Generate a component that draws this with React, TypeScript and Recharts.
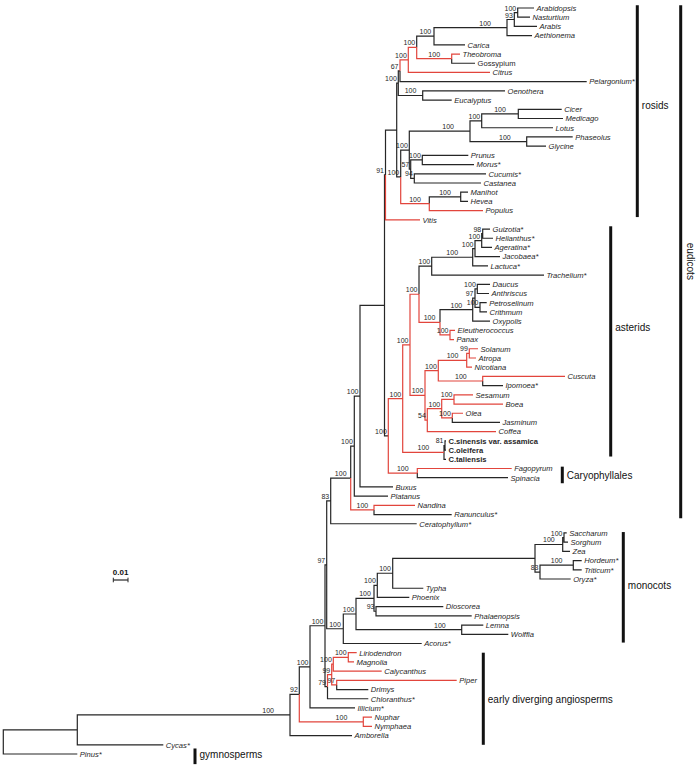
import React from "react";
import { ComposedChart, Line, Scatter, XAxis, YAxis, ReferenceLine } from "recharts";

// leaves, top to bottom: name, parent clade, tip depth
const tips: [string, string, number][] = [
  ["Arabidopsis", "arabNast", 534],
  ["Nasturtium", "arabNast", 530],
  ["Arabis", "n93", 537],
  ["Aethionema", "brassicaceae", 532],
  ["Carica", "brassicales", 465],
  ["Theobroma", "malvales", 460],
  ["Gossypium", "malvales", 475],
  ["Citrus", "C", 490],
  ["Pelargonium*", "D", 586.7],
  ["Oenothera", "myrtales", 505],
  ["Eucalyptus", "myrtales", 451.7],
  ["Cicer", "cicMed", 561.7],
  ["Medicago", "cicMed", 563],
  ["Lotus", "fabX", 553],
  ["Phaseolus", "phasGly", 572.7],
  ["Glycine", "phasGly", 546],
  ["Prunus", "rosales", 468.3],
  ["Morus*", "rosales", 474],
  ["Cucumis*", "cucFag", 486],
  ["Castanea", "cucFag", 481],
  ["Manihot", "manHev", 468],
  ["Hevea", "manHev", 468],
  ["Populus", "malpig", 483],
  ["Vitis", "V", 420],
  ["Guizotia*", "guiHel", 490],
  ["Helianthus*", "guiHel", 493],
  ["Ageratina*", "ast2", 492],
  ["Jacobaea*", "ast3", 500],
  ["Lactuca*", "asteraceae", 488],
  ["Trachelium*", "asterales", 544],
  ["Daucus", "dauAnth", 490],
  ["Anthriscus", "dauAnth", 489],
  ["Petroselinum", "petCri", 486.7],
  ["Crithmum", "petCri", 487],
  ["Oxypolis", "apiaceae", 490],
  ["Eleutherococcus", "aralia", 455],
  ["Panax", "aralia", 454],
  ["Solanum", "solAtr", 478],
  ["Atropa", "solAtr", 476],
  ["Nicotiana", "solanaceae", 472],
  ["Cuscuta", "convolv", 565],
  ["Ipomoea*", "convolv", 503],
  ["Sesamum", "sesBoea", 473],
  ["Boea", "sesBoea", 503],
  ["Olea", "oleJas", 463],
  ["Jasminum", "oleJas", 500],
  ["Coffea", "n54", 496],
  ["C.sinensis var. assamica", "n81", 446],
  ["C.oleifera", "n81", 446],
  ["C.taliensis", "camellia", 446],
  ["Fagopyrum", "caryo", 511.7],
  ["Spinacia", "caryo", 508],
  ["Buxus", "Q", 393],
  ["Platanus", "S", 388],
  ["Nandina", "ranunc", 415],
  ["Ranunculus*", "ranunc", 451.7],
  ["Ceratophyllum*", "U", 416.7],
  ["Saccharum", "sacSor", 566.7],
  ["Sorghum", "sacSor", 568],
  ["Zea", "SSZ", 570],
  ["Hordeum*", "pooid", 581.7],
  ["Triticum*", "pooid", 581.7],
  ["Oryza*", "BOP", 570.7],
  ["Typha", "poales", 423.3],
  ["Phoenix", "m377", 409.3],
  ["Dioscorea", "dioPhal", 443.3],
  ["Phalaenopsis", "dioPhal", 471.7],
  ["Lemna", "araceae", 483.3],
  ["Wolffia", "araceae", 508.3],
  ["Acorus*", "Mo", 421.7],
  ["Liriodendron", "LM", 356.7],
  ["Magnolia", "LM", 354],
  ["Calycanthus", "LMC", 381.7],
  ["Piper", "PD", 456.7],
  ["Drimys", "PD", 368.3],
  ["Chloranthus*", "n79", 368.3],
  ["Illicium*", "K", 355],
  ["Nuphar", "nym", 372],
  ["Nymphaea", "nym", 372],
  ["Amborella", "ang", 352],
  ["Cycas*", "seed", 163.3],
  ["Pinus*", "root", 77.3],
];

// internal nodes: id, parent, node depth, bootstrap support
const clades: [string, string, number, number | null][] = [
  ["root", "", 3.3, null],
  ["seed", "root", 77.3, null],
  ["ang", "seed", 290, 100],
  ["N92", "ang", 299.3, 92],
  ["K", "N92", 310, 100],
  ["L", "K", 325, 100],
  ["W", "L", 326.7, 97],
  ["U", "W", 330.7, 83],
  ["T", "U", 350.7, 100],
  ["S", "T", 354.3, 100],
  ["Q", "S", 360, 100],
  ["P", "Q", 384.5, null],
  ["V", "P", 385.5, 91],
  ["R", "V", 396.7, null],
  ["E", "R", 398.3, 100],
  ["D", "E", 400, 67],
  ["C", "D", 408.3, 100],
  ["B", "C", 416.7, 100],
  ["brassicales", "B", 434, 100],
  ["brassicaceae", "brassicales", 507, 100],
  ["n93", "brassicaceae", 514.3, 93],
  ["arabNast", "n93", 517.7, 100],
  ["malvales", "B", 451.7, 100],
  ["myrtales", "E", 422.7, 100],
  ["F", "R", 400.7, 100],
  ["G", "F", 409.3, 100],
  ["fabales", "G", 470, 100],
  ["fabX", "fabales", 481.7, 100],
  ["cicMed", "fabX", 518.3, 100],
  ["phasGly", "fabales", 526.7, 100],
  ["RC", "G", 410.7, 57],
  ["rosales", "RC", 422.3, 100],
  ["cucFag", "RC", 414.3, 94],
  ["malpig", "F", 429.3, 100],
  ["manHev", "malpig", 460.7, 100],
  ["SA", "P", 388.3, 100],
  ["AS", "SA", 402.7, 100],
  ["core", "AS", 410, 100],
  ["camp", "core", 419, 100],
  ["asterales", "camp", 431.7, 100],
  ["asteraceae", "asterales", 472.7, 100],
  ["ast3", "asteraceae", 475, 100],
  ["ast2", "ast3", 481.7, 100],
  ["guiHel", "ast2", 482.7, 98],
  ["apiales", "camp", 440, 100],
  ["apiaceae", "apiales", 472.7, 100],
  ["n97", "apiaceae", 475, 97],
  ["dauAnth", "n97", 477.3, 100],
  ["petCri", "n97", 480, 100],
  ["aralia", "apiales", 450, 100],
  ["lam", "core", 425, 100],
  ["solanales", "lam", 438.3, 100],
  ["solanaceae", "solanales", 466.7, 100],
  ["solAtr", "solanaceae", 469.3, 99],
  ["convolv", "solanales", 482.7, 100],
  ["n54", "lam", 427.3, 54],
  ["lamiales", "n54", 441.7, 100],
  ["sesBoea", "lamiales", 454, 100],
  ["oleJas", "lamiales", 452.3, 100],
  ["camellia", "AS", 444, 100],
  ["n81", "camellia", 445, 81],
  ["caryo", "SA", 417.3, 100],
  ["ranunc", "T", 374, 100],
  ["Mo", "W", 343.3, 100],
  ["mcore", "Mo", 356, 100],
  ["m374", "mcore", 374, 100],
  ["m377", "m374", 377.3, 100],
  ["poales", "m377", 392.7, 100],
  ["poaceae", "poales", 535, null],
  ["SSZ", "poaceae", 562.7, 100],
  ["sacSor", "SSZ", 564, 100],
  ["BOP", "poaceae", 540, 83],
  ["pooid", "BOP", 573.3, 100],
  ["dioPhal", "m374", 376, 93],
  ["araceae", "mcore", 461.7, 100],
  ["n79", "L", 327.5, 79],
  ["magn", "n79", 331.7, 99],
  ["LMC", "magn", 333.3, 100],
  ["LM", "LMC", 348.3, 100],
  ["PD", "magn", 336.7, 97],
  ["nym", "N92", 363.3, 100],
];

// branches highlighted in red
const redBranches = [
  "C", "B", "malvales", "Theobroma", "Citrus", "malpig", "Populus", "Vitis",
  "AS", "core", "camp", "apiales", "aralia", "Eleutherococcus", "Panax",
  "lam", "solanales", "solanaceae", "solAtr", "Solanum", "Atropa", "Nicotiana",
  "convolv", "Cuscuta", "n54", "lamiales", "sesBoea", "Sesamum", "Boea",
  "oleJas", "Olea", "Coffea", "camellia", "caryo", "Fagopyrum",
  "ranunc", "Nandina", "magn", "LMC", "LM", "Liriodendron", "Magnolia",
  "Calycanthus", "PD", "Piper", "nym", "Nuphar", "Nymphaea",
];

const boldTips = ["C.sinensis var. assamica", "C.oleifera", "C.taliensis"];
const uprightTips = ["Gossypium"];

// group brackets: label, first row, last row, label row
const groups: [string, number, number, number][] = [
  ["rosids", -0.3, 22.7, 10.6],
  ["asterids", 23.7, 48.7, 34.7],
  ["Caryophyllales", 49.8, 51.6, 50.7],
  ["monocots", 56.9, 68.9, 62.7],
  ["early diverging angiosperms", 70, 80, 75.1],
  ["gymnosperms", 80.4, 82.1, 81],
];
const groupX = [637.3, 610.7, 562.3, 623.3, 483.3, 195];
const outerGroup: [string, number, number, number] = ["eudicots", -0.3, 55.4, 27.5];
const outerX = 680.7;

// scale bar: 0.01 substitutions/site spans 14.7 depth units
const scaleLabel = "0.01";
const scaleSpan = 14.7;

const W = 697;
const H = 768;
const ROW = 9.21;
const TOP = 8;
const FONT = "'Liberation Sans', Arial, sans-serif";
const RED = "#e2453c";
const INK = "#262626";

const depth = new Map<string, number>();
const parent = new Map<string, string>();
const kids = new Map<string, string[]>();
const rowOf = new Map<string, number>();
tips.forEach(([n, p, d], i) => {
  depth.set(n, d);
  parent.set(n, p);
  rowOf.set(n, i);
});
clades.forEach(([n, p, d]) => {
  depth.set(n, d);
  parent.set(n, p);
});
parent.forEach((p, n) => {
  if (!p) return;
  if (!kids.has(p)) kids.set(p, []);
  kids.get(p)!.push(n);
});
const nodeRow = (id: string): number => {
  if (rowOf.has(id)) return rowOf.get(id)!;
  const ys = kids.get(id)!.map(nodeRow);
  const y = (Math.min(...ys) + Math.max(...ys)) / 2;
  rowOf.set(id, y);
  return y;
};
nodeRow("root");

const red = new Set(redBranches);
const blackPts: { x: number; y: number | null }[] = [];
const redPts: { x: number; y: number | null }[] = [];
parent.forEach((p, n) => {
  if (!p) return;
  const pd = depth.get(p)!;
  const py = rowOf.get(p)!;
  const cd = depth.get(n)!;
  const cy = rowOf.get(n)!;
  const arr = red.has(n) ? redPts : blackPts;
  arr.push({ x: pd, y: py }, { x: pd, y: cy }, { x: cd, y: cy }, { x: cd, y: null });
});

const tipData = tips.map(([n, , d], i) => ({ x: d, y: i, name: n }));
const supportData = clades
  .filter((c) => c[3] !== null && c[1])
  .map(([n, p, d, s]) => {
    const mid = (depth.get(p)! + d) / 2;
    const w = String(s).length * 3.9;
    const right = Math.min(d - 1.5, Math.max(mid + w / 2, d - 16));
    return { x: right, y: rowOf.get(n)!, name: String(s) };
  });
const groupData = groups.map(([g, , , lr], i) => ({ x: groupX[i] + 4.5, y: lr, name: g }));

const TipLabel = (p: any) => {
  const n = p.payload.name as string;
  const bold = boldTips.includes(n);
  const upright = bold || uprightTips.includes(n);
  return (
    <text x={p.cx + 2.5} y={p.cy + 2.8} fontFamily={FONT} fontSize={7.6}
      fontStyle={upright ? "normal" : "italic"} fontWeight={bold ? "bold" : "normal"} fill={INK}>
      {n}
    </text>
  );
};
const SupportLabel = (p: any) => (
  <text x={p.cx} y={p.cy - 2} textAnchor="end" fontFamily={FONT} fontSize={7} fill={INK}>
    {p.payload.name}
  </text>
);
const GroupLabel = (p: any) => (
  <text x={p.cx} y={p.cy + 3.6} fontFamily={FONT} fontSize={10} fill="#111">
    {p.payload.name}
  </text>
);

export default function App() {
  const scaleRow = (580 - TOP) / ROW;
  return (
    <div style={{ position: "absolute", left: 0, top: 0, width: W, height: H, background: "#fff" }}>
      <ComposedChart width={W} height={H} margin={{ top: 0, right: 0, bottom: 0, left: 0 }}>
        <XAxis type="number" dataKey="x" domain={[0, W]} hide allowDataOverflow />
        <YAxis type="number" dataKey="y" domain={[-TOP / ROW, (H - TOP) / ROW]} reversed hide allowDataOverflow />
        <Line data={blackPts} dataKey="y" type="linear" stroke={INK} strokeWidth={1.2}
          dot={false} activeDot={false} connectNulls={false} isAnimationActive={false} />
        <Line data={redPts} dataKey="y" type="linear" stroke={RED} strokeWidth={1.2}
          dot={false} activeDot={false} connectNulls={false} isAnimationActive={false} />
        {groups.map(([g, a, b], i) => (
          <ReferenceLine key={g} segment={[{ x: groupX[i], y: a }, { x: groupX[i], y: b }]}
            stroke="#111" strokeWidth={3} ifOverflow="visible" />
        ))}
        <ReferenceLine segment={[{ x: outerX, y: outerGroup[1] }, { x: outerX, y: outerGroup[2] }]}
          stroke="#111" strokeWidth={3} ifOverflow="visible"
          label={(props: any) => {
            const vb = props.viewBox;
            const cy = vb.y + ((outerGroup[3] - outerGroup[1]) / (outerGroup[2] - outerGroup[1])) * vb.height;
            return (
              <text x={vb.x + 6} y={cy} transform={`rotate(90 ${vb.x + 6} ${cy})`} textAnchor="middle"
                fontFamily={FONT} fontSize={10} fill="#111">
                {outerGroup[0]}
              </text>
            );
          }} />
        <ReferenceLine segment={[{ x: 113.3, y: scaleRow }, { x: 113.3 + scaleSpan, y: scaleRow }]}
          stroke={INK} strokeWidth={1.2} ifOverflow="visible"
          label={{ value: scaleLabel, position: "top", fontSize: 8, fontWeight: "bold", fill: "#111", fontFamily: FONT }} />
        <ReferenceLine segment={[{ x: 113.3, y: scaleRow - 0.25 }, { x: 113.3, y: scaleRow + 0.25 }]}
          stroke={INK} strokeWidth={1} ifOverflow="visible" />
        <ReferenceLine segment={[{ x: 113.3 + scaleSpan, y: scaleRow - 0.25 }, { x: 113.3 + scaleSpan, y: scaleRow + 0.25 }]}
          stroke={INK} strokeWidth={1} ifOverflow="visible" />
        <Scatter data={tipData} dataKey="y" shape={TipLabel} isAnimationActive={false} />
        <Scatter data={supportData} dataKey="y" shape={SupportLabel} isAnimationActive={false} />
        <Scatter data={groupData} dataKey="y" shape={GroupLabel} isAnimationActive={false} />
      </ComposedChart>
    </div>
  );
}
